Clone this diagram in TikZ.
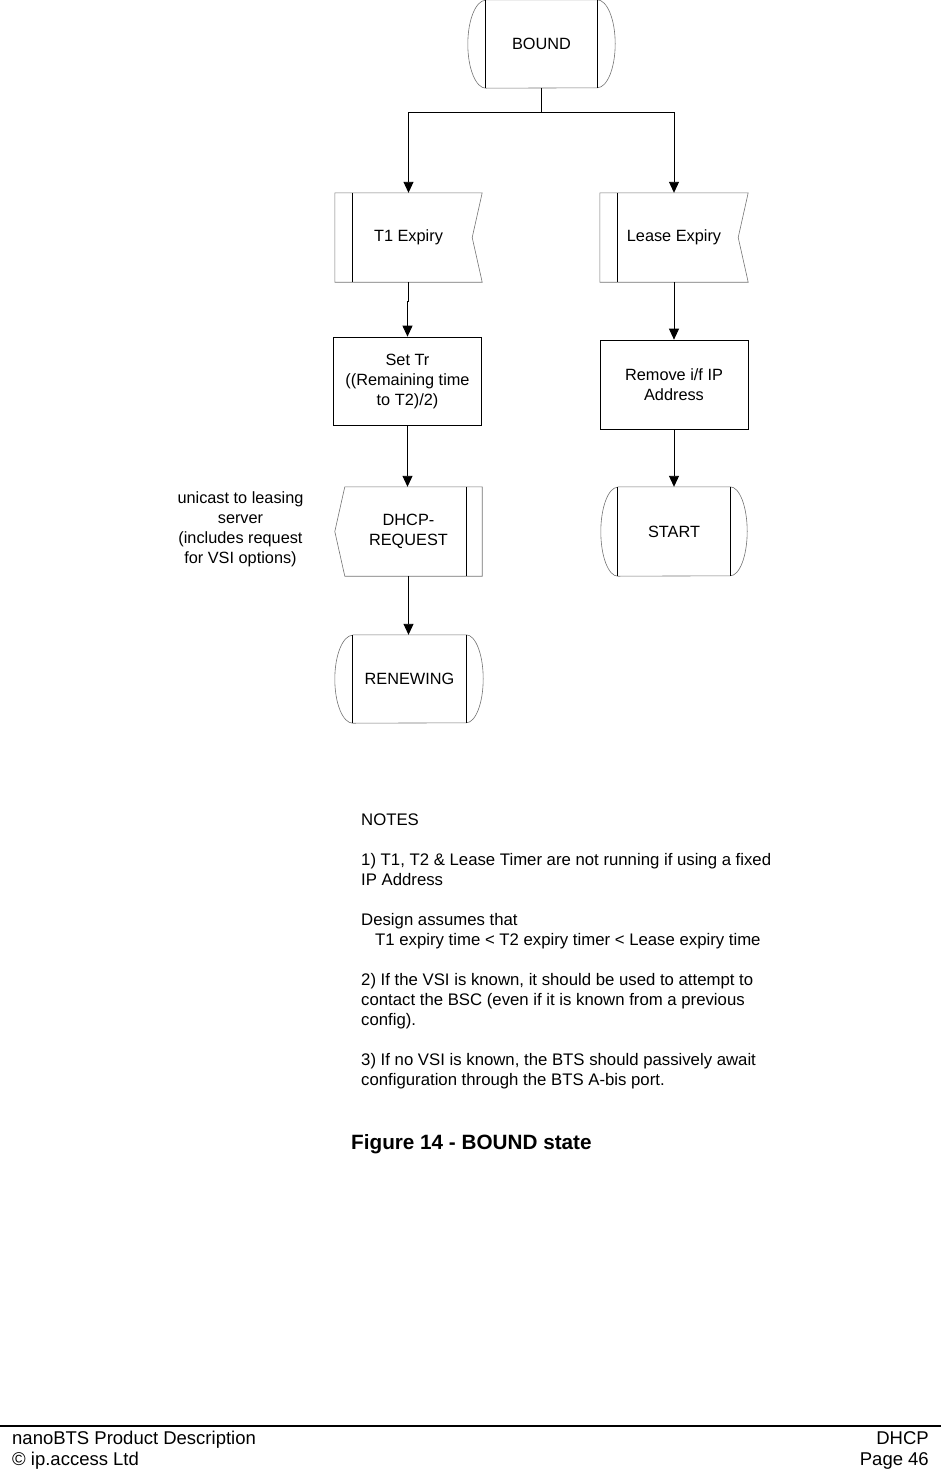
\documentclass[tikz,border=0pt]{standalone}
\usepackage{fontspec}
\setmainfont{Liberation Sans}
\usetikzlibrary{arrows.meta}
\begin{document}
\begin{tikzpicture}[x=1pt,y=-1pt,
  every node/.style={font=\fontsize{16.3}{20}\selectfont, inner sep=0pt, align=center},
  outl/.style={draw=black!55, line width=0.6pt},
  inl/.style={draw=black, line width=0.9pt},
  conn/.style={draw=black, line width=0.9pt},
  arr/.style={conn, -{Triangle[width=10pt,length=11pt]}},
  notel/.style={anchor=base west, align=left, font=\fontsize{16.75}{20}\selectfont},
  foot/.style={font=\fontsize{18.5}{21}\selectfont}]
\useasboundingbox (0,0) rectangle (941,1470);

% BOUND terminal
\node[minimum width=111pt, minimum height=88pt] (bound) at (541.5,44) {BOUND};
\draw[outl] (bound.north west) -- (bound.north east)
  arc[start angle=90, end angle=-90, x radius=18pt, y radius=44pt]
  -- (bound.south west)
  arc[start angle=270, end angle=90, x radius=18pt, y radius=44pt];
\draw[inl] (bound.north west) -- (bound.south west);
\draw[inl] (bound.north east) -- (bound.south east);

% T1 Expiry (signal input)
\node[minimum width=147pt, minimum height=89pt] (t1) at (408.5,237.5) {T1 Expiry};
\draw[outl] (t1.north west) -- (t1.north east) -- ([xshift=-10pt]t1.east)
  -- (t1.south east) -- (t1.south west) -- cycle;
\draw[inl] ([xshift=18pt]t1.north west) -- ([xshift=18pt]t1.south west);

% Lease Expiry (signal input)
\node[minimum width=148pt, minimum height=89pt] (lease) at (674,237.5) {Lease Expiry};
\draw[outl] (lease.north west) -- (lease.north east) -- ([xshift=-10pt]lease.east)
  -- (lease.south east) -- (lease.south west) -- cycle;
\draw[inl] ([xshift=18pt]lease.north west) -- ([xshift=18pt]lease.south west);

% Set Tr task
\node[draw=black, line width=0.7pt, minimum width=148pt, minimum height=88pt] (settr) at (407.5,381)
  {Set Tr\\((Remaining time\\to T2)/2)};

% Remove task
\node[draw=black, line width=0.7pt, minimum width=148pt, minimum height=89pt] (remove) at (674,384.5)
  {Remove i/f IP\\Address};

% DHCP-REQUEST (signal output)
\node[minimum width=147pt, minimum height=89pt] (dhcp) at (408.5,531.5) {DHCP-\\REQUEST};
\draw[outl] ([xshift=10pt]dhcp.north west) -- (dhcp.north east) -- (dhcp.south east)
  -- ([xshift=10pt]dhcp.south west) -- (dhcp.west) -- cycle;
\draw[inl] ([xshift=-16pt]dhcp.north east) -- ([xshift=-16pt]dhcp.south east);

% START terminal
\node[minimum width=112pt, minimum height=89pt] (start) at (674,531.5) {START};
\draw[outl] (start.north west) -- (start.north east)
  arc[start angle=90, end angle=-90, x radius=17pt, y radius=44.5pt]
  -- (start.south west)
  arc[start angle=270, end angle=90, x radius=17pt, y radius=44.5pt];
\draw[inl] (start.north west) -- (start.south west);
\draw[inl] (start.north east) -- (start.south east);

% RENEWING terminal
\node[minimum width=113pt, minimum height=88pt] (renew) at (409.5,679) {RENEWING};
\draw[outl] (renew.north west) -- (renew.north east)
  arc[start angle=90, end angle=-90, x radius=17pt, y radius=44pt]
  -- (renew.south west)
  arc[start angle=270, end angle=90, x radius=18pt, y radius=44pt];
\draw[inl] (renew.north west) -- (renew.south west);
\draw[inl] (renew.north east) -- (renew.south east);

% comment
\node (uni) at (240.5,529) {unicast to leasing\\server\\(includes request\\for VSI options)};

% connectors
\coordinate (j) at (541.5,112);
\draw[conn] (bound.south) -- (j);
\draw[arr] (j) -| (t1.north);
\draw[arr] (j) -| (lease.north);
\draw[arr] (t1.south) -- ++(0,19) -| (settr.north);
\draw[arr] (lease.south) -- (remove.north);
\draw[arr] (settr.south) -- (settr.south |- dhcp.north);
\draw[arr] (remove.south) -- (start.north);
\draw[arr] (dhcp.south) -- (dhcp.south |- renew.north);

% notes
\node[notel] (n1) at (361,825) {NOTES};
\node[notel] (n2) at (361,865) {1) T1, T2 \& Lease Timer are not running if using a fixed};
\node[notel] (n3) at (361,885) {IP Address};
\node[notel] (n4) at (361,925) {Design assumes that};
\node[notel] (n5) at (375,945) {T1 expiry time < T2 expiry timer < Lease expiry time};
\node[notel] (n6) at (361,985) {2) If the VSI is known, it should be used to attempt to};
\node[notel] (n7) at (361,1005) {contact the BSC (even if it is known from a previous};
\node[notel] (n8) at (361,1025) {config).};
\node[notel] (n9) at (361,1065) {3) If no VSI is known, the BTS should passively await};
\node[notel] (n10) at (361,1085) {configuration through the BTS A-bis port.};

% caption
\node[anchor=base west, font=\fontsize{20.7}{24}\selectfont\bfseries] (cap) at (351,1149.5) {Figure 14 - BOUND state};

% footer
\coordinate (fl) at (0,1426);
\coordinate (fr) at (941,1426);
\draw[black, line width=1.3pt] (fl) -- (fr);
\node[foot, anchor=base west] (f1) at (12,1444.5) {nanoBTS Product Description};
\node[foot, anchor=base west] (f2) at (12,1465.5) {© ip.access Ltd};
\node[foot, anchor=base east] (f3) at (929,1444.5) {DHCP};
\node[foot, anchor=base east] (f4) at (929,1465.5) {Page 46};
\end{tikzpicture}
\end{document}
